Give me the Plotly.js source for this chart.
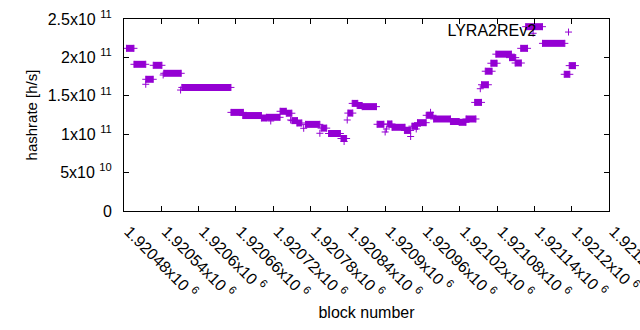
<!DOCTYPE html>
<html>
<head>
<meta charset="utf-8">
<script src="https://cdn.plot.ly/plotly-3.0.1.min.js"></script>
<style>html,body{margin:0;padding:0;background:#fff;}#chart{width:640px;height:330px;}</style>
</head>
<body>
<div id="chart"></div>
<script>
// Runs of consecutive blocks with (nearly) the same hashrate
const runStart = [1920484,1920496,1920515,1920527,1920544,1920573,1920652,1920671,1920701,1920709,
  1920731,1920741,1920750,1920758,1920772,1920797,1920809,1920829,1920840,1920847,
  1920855,1920863,1920887,1920904,1920911,1920931,1920943,1920952,1920966,1920978,
  1921005,1921019,1921030,1921044,1921055,1921061,1921070,1921078,1921100,1921109,
  1921118,1921126,1921153,1921188,1921196];
const runEnd = [1920496,1920515,1920527,1920541,1920572,1920652,1920672,1920701,1920709,1920731,
  1920741,1920750,1920759,1920766,1920795,1920806,1920828,1920838,1920848,1920856,
  1920863,1920886,1920898,1920911,1920932,1920941,1920952,1920966,1920977,1921005,
  1921019,1921030,1921046,1921055,1921066,1921072,1921080,1921103,1921110,1921119,
  1921129,1921153,1921189,1921197,1921206];
const runRate = [211.8e9,191.0e9,171.5e9,189.7e9,179.3e9,160.9e9,128.4e9,124.3e9,121.1e9,122.0e9,
  129.8e9,127.3e9,117.7e9,114.6e9,112.8e9,107.9e9,100.9e9,94.4e9,127.5e9,140.1e9,
  137.4e9,135.9e9,112.9e9,113.3e9,109.0e9,104.9e9,110.4e9,115.0e9,124.6e9,119.8e9,
  116.5e9,115.5e9,119.8e9,141.4e9,164.4e9,182.0e9,192.4e9,204.2e9,199.7e9,192.7e9,
  211.8e9,240.0e9,218.3e9,178.0e9,189.3e9];
// Isolated blocks
const pointBlock = [1920515,1920543,1920571,1920716,1920748,1920769,1920795,1920834,1920839,
  1920900,1920902,1920941,1920950,1920973,1921053,1921138];
const pointRate = [165.0e9,177.1e9,157.5e9,117.2e9,118.5e9,107.7e9,101.2e9,90.5e9,118.5e9,
  102.9e9,106.8e9,97.0e9,106.8e9,128.5e9,159.2e9,231.4e9];

const seriesName = 'LYRA2REv2';
const xTickVals = [1920480,1920540,1920600,1920660,1920720,1920780,1920840,1920900,1920960,1921020,1921080,1921140,1921200,1921260];
const xTickText = ['1.92048x10 <sup>6</sup>','1.92054x10 <sup>6</sup>','1.9206x10 <sup>6</sup>','1.92066x10 <sup>6</sup>',
  '1.92072x10 <sup>6</sup>','1.92078x10 <sup>6</sup>','1.92084x10 <sup>6</sup>','1.9209x10 <sup>6</sup>',
  '1.92096x10 <sup>6</sup>','1.92102x10 <sup>6</sup>','1.92108x10 <sup>6</sup>','1.92114x10 <sup>6</sup>',
  '1.9212x10 <sup>6</sup>','1.92126x10 <sup>6</sup>'];
const yTickVals = [0,5e10,1e11,1.5e11,2e11,2.5e11];
const yTickText = ['0','5x10 <sup>10</sup>','1x10 <sup>11</sup>','1.5x10 <sup>11</sup>','2x10 <sup>11</sup>','2.5x10 <sup>11</sup>'];

const color = '#9400d3';
const font = 'Liberation Sans, Arial, sans-serif';

// bodies of the runs (dense markers merge into a solid bar)
const bx = [], by = [];
runStart.forEach((s, i) => { bx.push(s, runEnd[i], null); by.push(runRate[i], runRate[i], null); });
// markers at run ends and isolated blocks
const mx = [], my = [];
runStart.forEach((s, i) => { mx.push(s, runEnd[i]); my.push(runRate[i], runRate[i]); });
pointBlock.forEach((b, i) => { mx.push(b); my.push(pointRate[i]); });

const traces = [
  {type:'scatter', mode:'lines', x:bx, y:by, line:{color:color, width:7}, showlegend:false, hoverinfo:'skip', connectgaps:false},
  {type:'scatter', mode:'markers', x:mx, y:my, name:'', showlegend:true,
   marker:{symbol:'cross-thin', size:5, color:color, line:{color:color, width:1}}}
];

const axisCommon = {showline:true, mirror:'ticks', linecolor:'#000', linewidth:1, ticks:'inside', ticklen:5,
  tickcolor:'#000', showgrid:false, zeroline:false, ticklabeloverflow:'allow', tickfont:{family:font, size:16, color:'#000'}};

const layout = {
  width:640, height:330,
  margin:{l:124, r:31, t:19, b:119, pad:0},
  paper_bgcolor:'#fff', plot_bgcolor:'#fff',
  font:{family:font, size:15, color:'#000'},
  xaxis:Object.assign({}, axisCommon, {range:[1920480,1921260], tickvals:xTickVals, ticktext:xTickText,
    tickangle:45, ticklabelstandoff:4, ticklabelshift:5, automargin:false,
    title:{text:'block number', font:{family:font, size:16, color:'#000'}, standoff:6}}),
  yaxis:Object.assign({}, axisCommon, {range:[0,2.5e11], tickvals:yTickVals, ticktext:yTickText,
    ticklabelstandoff:8, automargin:false,
    title:{text:'hashrate [h/s]', font:{family:font, size:15, color:'#000'}, standoff:6}}),
  showlegend:true,
  legend:{x:0.97, xanchor:'right', y:1.02, yanchor:'top', bgcolor:'rgba(0,0,0,0)', borderwidth:0,
    font:{family:font, size:16, color:'#000'},
    title:{text:seriesName + '\u00a0', side:'left', font:{family:font, size:16, color:'#000'}}}
};

Plotly.newPlot('chart', traces, layout, {displayModeBar:false, staticPlot:true});
</script>
</body>
</html>
